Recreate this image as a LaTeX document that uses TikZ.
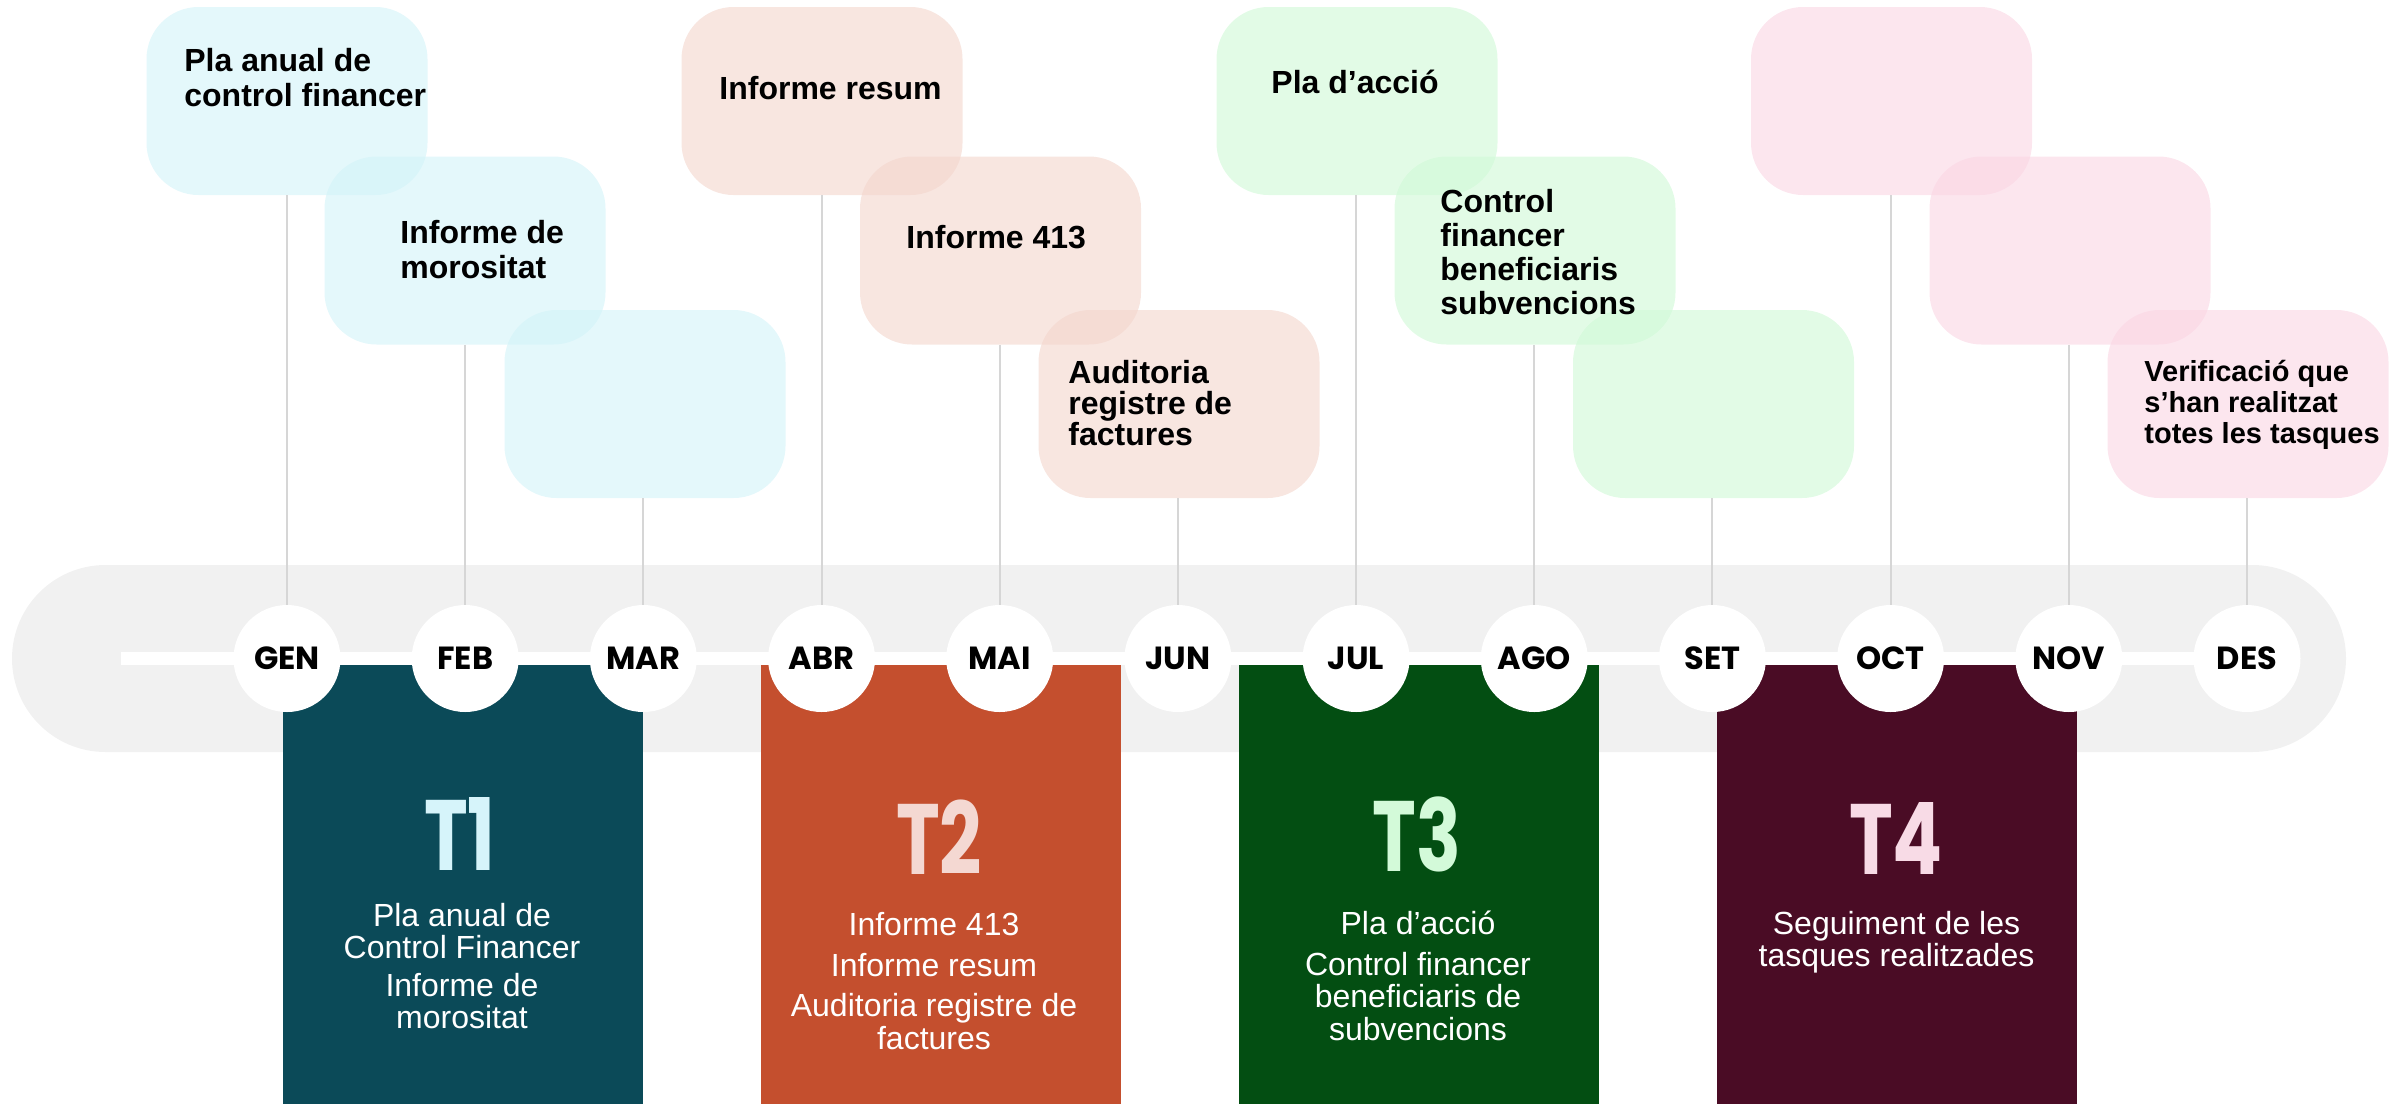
\documentclass[tikz,border=0pt]{standalone}
\usepackage{fontspec}
\setmainfont{Liberation Sans}
\newfontfamily\popfont{Poppins}
\definecolor{bandgray}{HTML}{F1F1F1}
\definecolor{vline}{HTML}{D6D6D6}
\definecolor{qA}{HTML}{0B4A58}
\definecolor{qB}{HTML}{C44F2E}
\definecolor{qC}{HTML}{034E12}
\definecolor{qD}{HTML}{4A0C25}
\definecolor{tA}{HTML}{D6F4FA}
\definecolor{tB}{HTML}{F4D8D2}
\definecolor{tC}{HTML}{D3FAD9}
\definecolor{tD}{HTML}{F8DBE6}
\definecolor{bA}{HTML}{D2F3F8}
\definecolor{bB}{HTML}{F3D5CC}
\definecolor{bC}{HTML}{CFF9D6}
\definecolor{bD}{HTML}{FAD5E3}
\tikzset{
  monthnode/.style={circle, fill=white, minimum size=53.5pt, inner sep=0pt,
    font=\popfont\bfseries\fontsize{16}{16}\selectfont},
  callout/.style={rectangle, rounded corners=26pt, fill opacity=0.6,
    minimum width=140.5pt, minimum height=94pt, inner sep=0pt},
  boxtext/.style={anchor=west, align=left, inner sep=0pt,
    font=\bfseries\fontsize{16}{17.5}\selectfont},
  qrect/.style={rectangle, minimum width=180pt, minimum height=219.5pt, inner sep=0pt},
  qtitle/.style={inner sep=0pt, font=\popfont\bfseries\fontsize{50}{50}\selectfont},
  qbody/.style={align=center, text=white, inner sep=0pt,
    font=\fontsize{16}{16.25}\selectfont},
  stem/.style={draw=vline, line width=1pt},
  wline/.style={draw=white, line width=6.5pt},
}
\begin{document}
\begin{tikzpicture}[x=0.5pt,y=-0.5pt]
\useasboundingbox (0,0) rectangle (2402,1104);
% gray band
\fill[bandgray, rounded corners=46.75pt] (12,565) rectangle (2346,752);
% month coordinates
\foreach \n [count=\i from 0] in {GEN,FEB,MAR,ABR,MAI,JUN,JUL,AGO,SET,OCT,NOV,DES}
  \coordinate (p\n) at ({287+178.18*\i},658.5);
% callout boxes
\node[callout, fill=bA] (cGEN) at (287,101) {};
\node[callout, fill=bA] (cFEB) at (465,250.5) {};
\node[callout, fill=bA] (cMAR) at (645,404) {};
\node[callout, fill=bB] (cABR) at (822,101) {};
\node[callout, fill=bB] (cMAI) at (1000.5,250.5) {};
\node[callout, fill=bB] (cJUN) at (1179,404) {};
\node[callout, fill=bC] (cJUL) at (1357,101) {};
\node[callout, fill=bC] (cAGO) at (1535,250.5) {};
\node[callout, fill=bC] (cSET) at (1713.5,404) {};
\node[callout, fill=bD] (cOCT) at (1891.5,101) {};
\node[callout, fill=bD] (cNOV) at (2070,250.5) {};
\node[callout, fill=bD] (cDES) at (2248,404) {};
% stems
\foreach \n in {GEN,FEB,MAR,ABR,MAI,JUN,JUL,AGO,SET,OCT,NOV,DES}
  \draw[stem] (p\n |- c\n.south) -- (p\n);
% white horizontal line
\coordinate (lstart) at (121,658.5);
\draw[wline] (lstart) -- (pDES);
% quarter rectangles
\node[qrect, fill=qA] (qT1) at (463,884.5) {};
\node[qrect, fill=qB] (qT2) at (940.5,884.5) {};
\node[qrect, fill=qC] (qT3) at (1419,884.5) {};
\node[qrect, fill=qD] (qT4) at (1896.5,884.5) {};
% month circles
\foreach \n in {GEN,FEB,MAR,ABR,MAI,JUN,JUL,AGO,SET,OCT,NOV,DES}
  \node[monthnode] (m\n) at (p\n) {\n};
% quarter titles
\node[qtitle, text=tA] (hT1) at (460,834) {\scalebox{0.74}[1]{T1}};
\node[qtitle, text=tB] (hT2) at (939,837) {\scalebox{0.74}[1]{T2}};
\node[qtitle, text=tC] (hT3) at (1417,834) {\scalebox{0.74}[1]{T3}};
\node[qtitle, text=tD] (hT4) at (1896,838) {\scalebox{0.74}[1]{T4}};
% quarter bodies
\node[qbody] (bT1) at (462,966) {Pla anual de\\Control Financer\\[2.5pt]Informe de\\morositat};
\node[qbody] (bT2) at (934,981) {Informe 413\\[4pt]Informe resum\\[4pt]Auditoria registre de\\factures};
\node[qbody] (bT3) at (1418,976) {Pla d’acció\\[4pt]Control financer\\beneficiaris de\\subvencions};
\node[qbody] (bT4) at (1896.5,942) {Seguiment de les\\tasques realitzades};
% callout texts
\node[boxtext] (xGEN) at (184,77.5) {Pla anual de\\control financer};
\node[boxtext] (xFEB) at (400,250) {Informe de\\morositat};
\node[boxtext] (xABR) at (719,88) {Informe resum};
\node[boxtext] (xMAI) at (906,237) {Informe 413};
\node[boxtext, font=\bfseries\fontsize{16}{15.5}\selectfont] (xJUN) at (1068,403) {Auditoria\\registre de\\factures};
\node[boxtext] (xJUL) at (1271,82) {Pla d’acció};
\node[boxtext, font=\bfseries\fontsize{16}{17}\selectfont] (xAGO) at (1440,252.5) {Control\\financer\\beneficiaris\\subvencions};
\node[boxtext, font=\bfseries\fontsize{14.5}{15.5}\selectfont] (xDES) at (2144,405) {Verificació que\\s’han realitzat\\totes les tasques};
\end{tikzpicture}
\end{document}
